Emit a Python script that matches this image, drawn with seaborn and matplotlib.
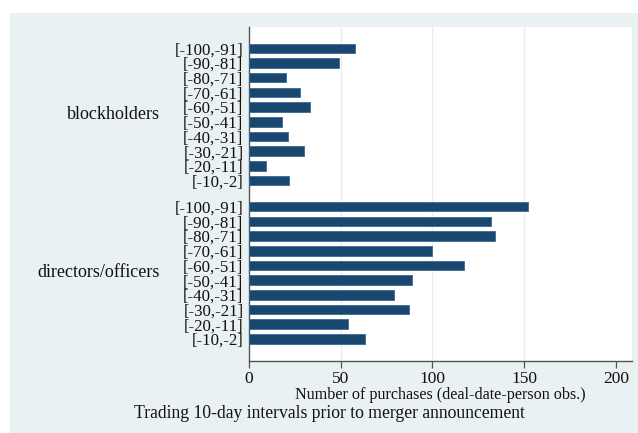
import matplotlib
matplotlib.use("Agg")
import matplotlib.pyplot as plt
from matplotlib.patches import Rectangle
import numpy as np
import pandas as pd
import seaborn as sns

# Ten-day windows before the announcement
intervals = ["[-100,-91]", "[-90,-81]", "[-80,-71]", "[-70,-61]", "[-60,-51]",
             "[-50,-41]", "[-40,-31]", "[-30,-21]", "[-20,-11]", "[-10,-2]"]
groups = ["blockholders", "directors/officers"]
blockholders = [58, 49, 20, 28, 33, 18, 21, 30, 9, 22]
directors_officers = [152, 132, 134, 100, 117, 89, 79, 87, 54, 63]
x_ticks = [0, 50, 100, 150, 200]
x_label = "Number of purchases (deal-date-person obs.)"
title = "Trading 10-day intervals prior to merger announcement"

sns.set_theme(style="white")
plt.rcParams["font.family"] = ["Liberation Serif", "DejaVu Serif"]

BAR = "#1a476f"
PANEL = "#eaf1f3"
GRID = "#e6eef1"
TEXT = "#111111"

# Row positions: one slot per interval, with a wider gap between the groups
group_gap = 1.77
pos_block = np.arange(len(intervals), dtype=float)
pos_dir = pos_block + len(intervals) - 1 + group_gap

df = pd.DataFrame({
    "pos": np.concatenate([pos_block, pos_dir]),
    "count": blockholders + directors_officers,
    "interval": intervals * 2,
    "group": [groups[0]] * len(intervals) + [groups[1]] * len(intervals),
})

fig = plt.figure(figsize=(6.38, 4.33), dpi=100, facecolor="white")
fig.patches.append(Rectangle((10 / 638, 0), 628 / 638, 1 - 13 / 433,
                             transform=fig.transFigure, facecolor=PANEL,
                             edgecolor="none", zorder=-10))
ax = fig.add_axes([249 / 638, 1 - 361 / 433, 383 / 638, 334 / 433])
ax.set_facecolor("white")

sns.barplot(data=df, x="count", y="pos", orient="h", native_scale=True,
            color=BAR, saturation=1, width=0.65, linewidth=0.6,
            edgecolor="#3a6a94", ax=ax, zorder=3)

ax.set_xlim(0, 208.8)
ax.set_ylim(pos_dir[-1] + 1.5, -1.45)

ax.set_xticks(x_ticks)
ax.set_xticklabels([str(t) for t in x_ticks], fontsize=12.5, color=TEXT)
ax.tick_params(axis="x", direction="out", length=5, width=0.9,
               color="#555555", pad=2, bottom=True)
for g in x_ticks[1:-1]:
    ax.axvline(g, color=GRID, linewidth=0.9, zorder=1)

ax.set_yticks(df["pos"])
ax.set_yticklabels(df["interval"], fontsize=12.2, color=TEXT)
ax.tick_params(axis="y", length=0, pad=4)

# Group labels to the left of the interval labels
for name, pos in zip(groups, [pos_block, pos_dir]):
    ax.text(-0.232, pos.mean(), name, transform=ax.get_yaxis_transform(),
            ha="right", va="center", fontsize=13, color=TEXT)

ax.set_xlabel(x_label, fontsize=11.6, color=TEXT, labelpad=0)
ax.set_ylabel("")

for side in ["top", "right"]:
    ax.spines[side].set_visible(False)
ax.spines["left"].set_color("#555555")
ax.spines["left"].set_linewidth(1.0)
ax.spines["bottom"].set_color("#555555")
ax.spines["bottom"].set_linewidth(1.0)

fig.text(329 / 638, 1 - 413 / 433, title, ha="center", va="center",
         fontsize=12.7, color=TEXT)

fig.savefig("out.png", dpi=100, facecolor="white")
